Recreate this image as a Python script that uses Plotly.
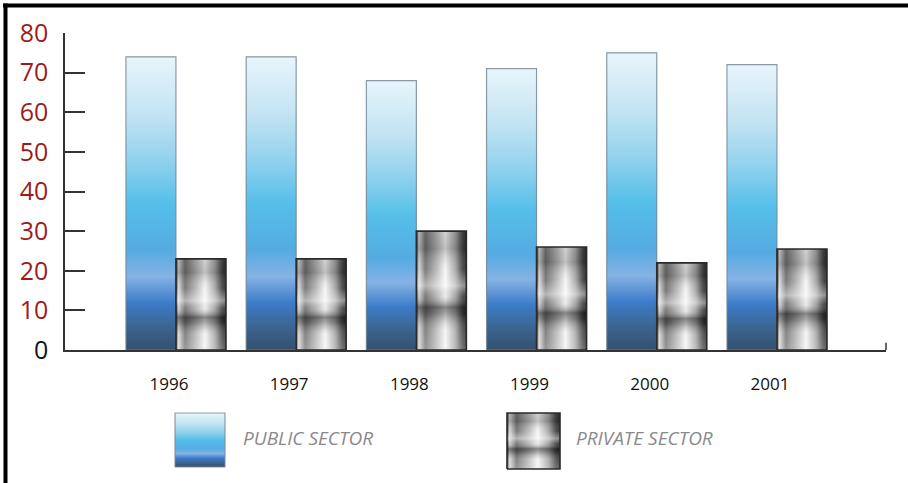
import plotly.graph_objects as go

years = ["1996", "1997", "1998", "1999", "2000", "2001"]
public_sector = [74, 74, 68, 71, 75, 72]
private_sector = [23, 23, 30, 26, 22, 25.5]
y_ticks = [0, 10, 20, 30, 40, 50, 60, 70, 80]
legend_labels = ["PUBLIC SECTOR", "PRIVATE SECTOR"]

W, H = 908, 483
BAR_W = 0.416
idx = list(range(len(years)))

PUBLIC_SCALE = [[0.0, "#34506f"], [0.08, "#3b6590"], [0.16, "#3b7cc8"],
                [0.25, "#86b2e4"], [0.34, "#55abe2"], [0.5, "#55bfe9"],
                [0.64, "#8fd1ee"], [0.8, "#c2e3f3"], [1.0, "#e8f5fb"]]
CHROME_H = [[0.0, "#1c1c1c"], [0.05, "#d4d4d4"], [0.18, "#686868"],
            [0.42, "#b8b8b8"], [0.58, "#f4f4f4"], [0.78, "#a0a0a0"],
            [0.92, "#3a3a3a"], [1.0, "#1a1a1a"]]
CHROME_V = [[0.0, "rgba(255,255,255,0.3)"], [0.17, "rgba(255,255,255,0.2)"],
            [0.3, "rgba(40,40,40,0.35)"], [0.36, "rgba(25,25,25,0.5)"],
            [0.45, "rgba(200,200,200,0.2)"], [0.54, "rgba(255,255,255,0.5)"],
            [0.68, "rgba(255,255,255,0.12)"], [0.85, "rgba(60,60,60,0.28)"],
            [1.0, "rgba(90,90,90,0.22)"]]

fig = go.Figure()

# data bars (base layer)
fig.add_trace(go.Bar(x=idx, y=public_sector, offset=-BAR_W, width=BAR_W,
                     marker=dict(color="#5ab8e6", line=dict(width=0)),
                     name=legend_labels[0], showlegend=False))
fig.add_trace(go.Bar(x=idx, y=private_sector, offset=0, width=BAR_W,
                     marker=dict(color="#9a9a9a", line=dict(width=0)),
                     name=legend_labels[1], showlegend=False))


def rect(x0, x1, y0, y1):
    return [x0, x1, x1, x0, x0], [y0, y0, y1, y1, y0]


def add_public(xs, ys, xaxis="x", yaxis="y"):
    fig.add_trace(go.Scatter(x=xs, y=ys, mode="lines", fill="toself",
                             fillgradient=dict(type="vertical", colorscale=PUBLIC_SCALE),
                             line=dict(color="rgba(120,132,145,0.8)", width=1.2),
                             xaxis=xaxis, yaxis=yaxis, hoverinfo="skip", showlegend=False))


def add_private(xs, ys, xaxis="x", yaxis="y"):
    fig.add_trace(go.Scatter(x=xs, y=ys, mode="lines", fill="toself",
                             fillgradient=dict(type="horizontal", colorscale=CHROME_H),
                             line=dict(width=0), xaxis=xaxis, yaxis=yaxis,
                             hoverinfo="skip", showlegend=False))
    fig.add_trace(go.Scatter(x=xs, y=ys, mode="lines", fill="toself",
                             fillgradient=dict(type="vertical", colorscale=CHROME_V),
                             line=dict(color="#2a2a2a", width=1.6), xaxis=xaxis, yaxis=yaxis,
                             hoverinfo="skip", showlegend=False))


for i, v in zip(idx, public_sector):
    xs, ys = rect(i - BAR_W, i, 0, v)
    add_public(xs, ys)
for i, v in zip(idx, private_sector):
    xs, ys = rect(i, i + BAR_W, 0, v)
    add_private(xs, ys)

# legend swatches on a pixel-space axis covering the legend strip
lx, ly = rect(175, 225, 467, 413)
add_public(lx, ly, "x2", "y2")
lx, ly = rect(507, 560, 469, 413)
add_private(lx, ly, "x2", "y2")

tick_text = ["<span style='color:#111111'>0</span>"] + [str(t) for t in y_ticks[1:]]

fig.update_layout(
    width=W, height=H, margin=dict(l=0, r=0, t=0, b=0, autoexpand=False),
    paper_bgcolor="white", plot_bgcolor="rgba(0,0,0,0)",
    barmode="overlay", showlegend=False,
    font=dict(family="Open Sans", color="#111111"),
    xaxis=dict(domain=[65 / W, 886 / W], range=[-0.923, 5.907], tickvals=idx,
               ticktext=years, showgrid=False, zeroline=False, showline=True,
               linecolor="#333333", linewidth=1.5, ticks="",
               tickfont=dict(size=17, color="#111111"), ticklabelstandoff=18,
               ticklabelshift=-7, fixedrange=True, automargin=False),
    yaxis=dict(domain=[1 - 350 / H, 1 - 33 / H], range=[0, 80], tickvals=y_ticks,
               ticktext=tick_text, showgrid=False, zeroline=False, showline=True,
               linecolor="#333333", linewidth=1.5, ticks="inside", ticklen=20,
               tickwidth=1.5, tickcolor="#333333",
               tickfont=dict(size=25, color="#9b1c1c"), ticklabelstandoff=10,
               fixedrange=True, automargin=False),
    xaxis2=dict(domain=[0, 1], range=[0, W], visible=False, anchor="y2",
                automargin=False, fixedrange=True),
    yaxis2=dict(domain=[0, 83 / H], range=[H, 400], visible=False, anchor="x2",
                automargin=False, fixedrange=True),
)

# legend labels
fig.add_annotation(x=241 / W, y=1 - 438 / H, xref="paper", yref="paper",
                   text="<i>" + legend_labels[0] + "</i>", showarrow=False,
                   xanchor="left", yanchor="middle",
                   font=dict(size=19, color="#8a8a8a", family="Open Sans"))
fig.add_annotation(x=574 / W, y=1 - 438 / H, xref="paper", yref="paper",
                   text="<i>" + legend_labels[1] + "</i>", showarrow=False,
                   xanchor="left", yanchor="middle",
                   font=dict(size=19, color="#8a8a8a", family="Open Sans"))

# small end tick at right of x axis
fig.add_shape(type="line", xref="x domain", yref="y", x0=1, x1=1, y0=0, y1=1.8,
              line=dict(color="#333333", width=1.5))
# frame (top and left)
fig.add_shape(type="line", xref="paper", yref="paper", x0=3 / W, x1=1,
              y0=1 - 5.5 / H, y1=1 - 5.5 / H, line=dict(color="black", width=4))
fig.add_shape(type="line", xref="paper", yref="paper", x0=5.5 / W, x1=5.5 / W,
              y0=0, y1=1 - 3.5 / H, line=dict(color="black", width=4))

fig.write_html("out.html")
